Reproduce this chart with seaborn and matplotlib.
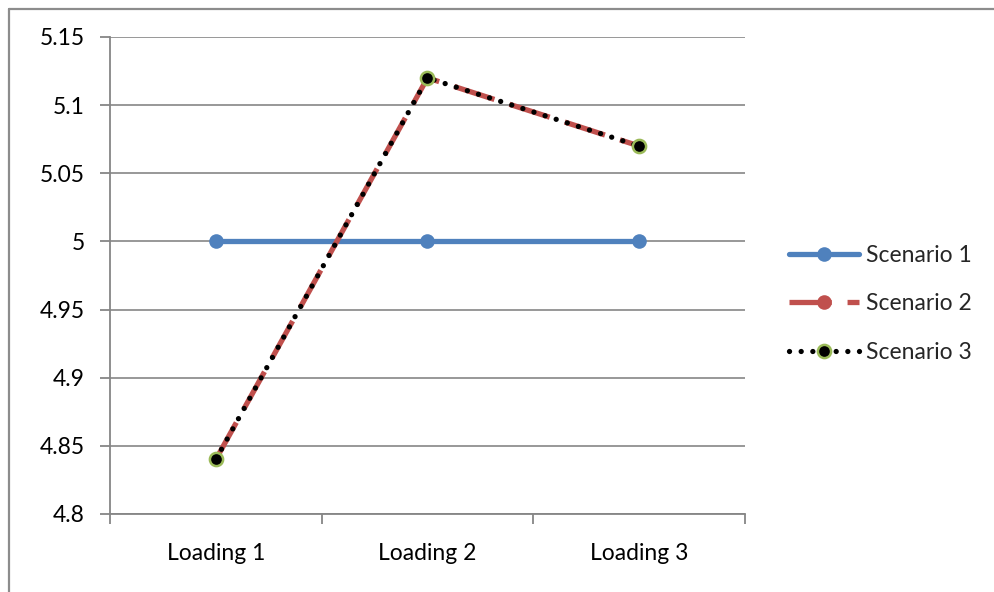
import matplotlib
matplotlib.use("Agg")
import matplotlib.pyplot as plt
import matplotlib.lines as mlines
import seaborn as sns
import pandas as pd

# Data
categories = ["Loading 1", "Loading 2", "Loading 3"]
scenario_1 = [5.00, 5.00, 5.00]
scenario_2 = [4.84, 5.12, 5.07]
scenario_3 = [4.84, 5.12, 5.07]
series_names = ["Scenario 1", "Scenario 2", "Scenario 3"]
y_ticks = [4.8, 4.85, 4.9, 4.95, 5.0, 5.05, 5.1, 5.15]
y_tick_labels = ["4.8", "4.85", "4.9", "4.95", "5", "5.05", "5.1", "5.15"]

sns.set_theme(style="white")
plt.rcParams["font.family"] = ["Lato", "DejaVu Sans"]
FS = 16.5

fig = plt.figure(figsize=(9.95, 5.92), dpi=100)
ax = fig.add_axes([110 / 995, 78 / 592, 635 / 995, 477 / 592])

x_pos = list(range(len(categories)))
df = pd.DataFrame({
    "x": x_pos * 3,
    "value": scenario_1 + scenario_2 + scenario_3,
    "series": [series_names[0]] * 3 + [series_names[1]] * 3 + [series_names[2]] * 3,
})

grid_color = "#868686"
blue = "#4F81BD"
red = "#C0504D"
green = "#9BBB59"

# Scenario 1: solid blue with round markers
sns.lineplot(data=df[df.series == series_names[0]], x="x", y="value", ax=ax,
             color=blue, linewidth=3.8, marker="o", markersize=10.5,
             markeredgewidth=0, markerfacecolor=blue, legend=False, zorder=3)
# Scenario 2: long-dash red with round markers
sns.lineplot(data=df[df.series == series_names[1]], x="x", y="value", ax=ax,
             color=red, linewidth=3.8, marker="o", markersize=10.5,
             markeredgewidth=0, markerfacecolor=red, legend=False, zorder=4,
             dashes=False)
ax.get_lines()[-1].set_dashes((8, 3))
# Scenario 3: black round dots with black markers edged in green
sns.lineplot(data=df[df.series == series_names[2]], x="x", y="value", ax=ax,
             color="black", linewidth=3.8, marker="o", markersize=9.5,
             markeredgewidth=1.8, markeredgecolor=green, markerfacecolor="black",
             legend=False, zorder=5)
dot_line = ax.get_lines()[-1]
dot_line.set_linestyle((0, (0.01, 2.2)))
dot_line.set_dash_capstyle("round")

# Axes styling
ax.set_xlim(-0.5, len(categories) - 0.5)
ax.set_ylim(4.8, 5.15)
ax.set_yticks(y_ticks)
ax.set_yticklabels(y_tick_labels)
ax.set_xticks(x_pos)
ax.set_xticklabels(categories)
ax.set_xticks([i - 0.5 for i in range(len(categories) + 1)], minor=True)
ax.tick_params(axis="x", which="major", length=0, pad=21, labelsize=FS, colors="black")
ax.tick_params(axis="x", which="minor", length=7, width=1.3, color=grid_color, direction="out")
ax.tick_params(axis="y", which="major", length=7, width=1.3, color=grid_color,
               direction="out", pad=11, labelsize=FS, labelcolor="black")
ax.tick_params(axis="y", left=True)
ax.tick_params(axis="x", bottom=True, which="both")
ax.set_xlabel("")
ax.set_ylabel("")
ax.grid(axis="y", color=grid_color, linewidth=1.2)
ax.grid(axis="x", visible=False)
ax.set_axisbelow(True)
for side in ["top", "right"]:
    ax.spines[side].set_visible(False)
for side in ["left", "bottom"]:
    ax.spines[side].set_color(grid_color)
    ax.spines[side].set_linewidth(1.3)
ax.patch.set_alpha(0)

# Legend
handles = [
    mlines.Line2D([], [], color=blue, linewidth=3.8, marker="o", markersize=10.5,
                  markeredgewidth=0),
    mlines.Line2D([], [], color=red, linewidth=3.8, marker="o", markersize=10.5,
                  markeredgewidth=0, dashes=(8, 3)),
    mlines.Line2D([], [], color="black", linewidth=3.8, marker="o", markersize=9.5,
                  markeredgewidth=1.8, markeredgecolor=green, markerfacecolor="black",
                  linestyle=(0, (0.01, 2.2)), dash_capstyle="round"),
]
fig.legend(handles, series_names, loc="center left",
           bbox_to_anchor=(771 / 995, (592 - 304) / 592), frameon=False,
           fontsize=FS, handlelength=3.05, handletextpad=0.3, labelspacing=1.18,
           borderpad=0.3)

# Chart frame on the left and top edges
fig.add_artist(mlines.Line2D([8.5 / 995, 8.5 / 995], [0, 1 - 9 / 592],
                             transform=fig.transFigure, color="#8c8c8c", linewidth=1.6))
fig.add_artist(mlines.Line2D([8.5 / 995, 1], [1 - 9 / 592, 1 - 9 / 592],
                             transform=fig.transFigure, color="#8c8c8c", linewidth=1.6))

fig.savefig("out.png", dpi=100)
